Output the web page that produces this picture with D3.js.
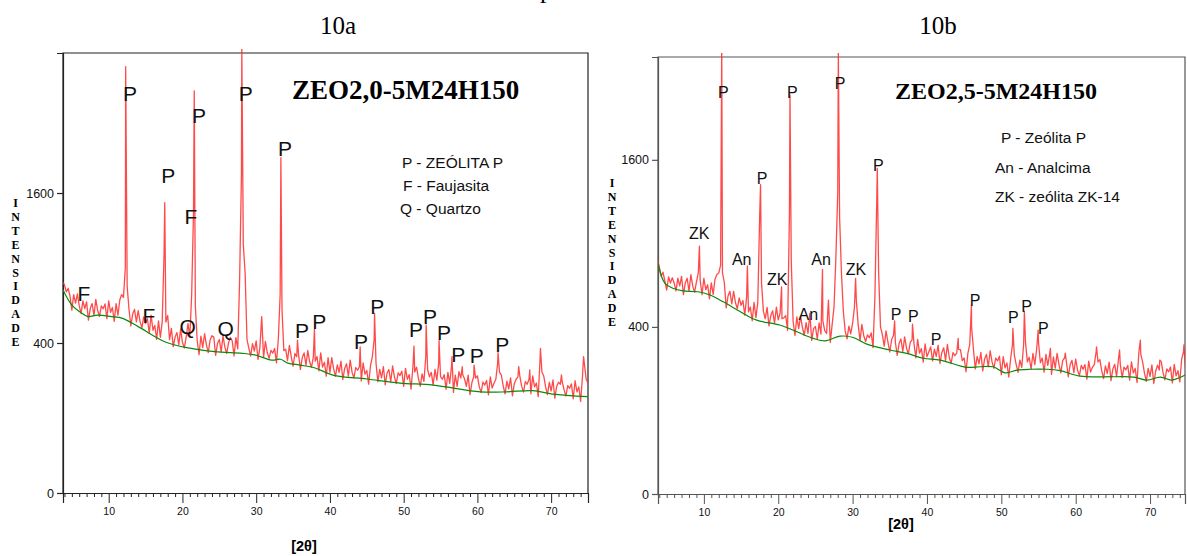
<!DOCTYPE html>
<html>
<head>
<meta charset="utf-8">
<script src="https://cdn.jsdelivr.net/npm/d3@7"></script>
<style>
  body { margin: 0; background: #fff; }
  svg { display: block; }
</style>
</head>
<body>
<svg id="chart" width="1187" height="556"></svg>
<script>
// ---- data --------------------------------------------------------------
// Scans are sampled every 0.25° 2θ starting at 3.75°; sharp reflections are
// listed separately as [2θ, intensity] and merged into the trace.
const SCAN_START = 3.75;
const SCAN_STEP = 0.25;

const scanA = [
  790,
  770, 720, 745, 690,   595, 700, 641, 705,   624, 572, 656, 604,   650, 531, 606, 638,   // 4-7°
  560, 667, 592, 554,   623, 604, 636, 541,   656, 580, 612, 524,   638, 562, 662, 700,   // 8-11°
  680, 900, 760, 600,   496, 569, 599, 520,   592, 522, 486, 551,   511, 540, 453, 563,   // 12-15°
  471, 499, 420, 527,   431, 519, 1000, 520,  560, 418, 482, 381,   432, 458, 390, 479,   // 16-19°
  404, 373, 430, 510,   434, 700, 1400, 620,  412, 340, 437, 376,   451, 390, 350, 416,   // 20-23°
  440, 432, 337, 397,   419, 354, 439, 379,   346, 401, 430, 411,   334, 429, 369, 800,   // 24-27°
  1800, 1100, 860, 420, 373, 333, 397, 358,   411, 317, 376, 553,   327, 409, 351, 322,   // 28-31°
  362, 348, 371, 301,   420, 700, 600, 360,   368, 312, 387, 331,   286, 346, 330, 340,   // 32-35°
  272, 326, 349, 290,   361, 306, 280, 329,   309, 331, 265, 349,   282, 304, 243, 326,   // 36-39°
  258, 326, 275, 242,   292, 259, 309, 229,   276, 297, 243, 314,   260, 235, 280, 268,   // 40-43°
  284, 223, 301, 251,   267, 211, 288, 330,   420, 300, 220, 272,   236, 284, 208, 256,   // 44-47°
  271, 220, 287, 240,   213, 257, 245, 264,   202, 276, 230, 249,   192, 280, 260, 282,   // 48-51°
  233, 202, 252, 222,   330, 270, 240, 259,   207, 272, 226, 300,   241, 230, 249, 192,   // 52-55°
  259, 214, 290, 180,   247, 202, 262, 235,   250, 232, 202, 247,   172, 216, 240, 235,   // 56-59°
  244, 201, 179, 219,   207, 225, 171, 240,   196, 214, 230, 300,   260, 247, 204, 175,   // 60-63°
  222, 193, 236, 168,   212, 230, 240, 244,   203, 181, 221, 210,   230, 175, 244, 200,   // 64-67°
  215, 165, 320, 260,   243, 200, 172, 218,   185, 227, 160, 202,   218, 210, 220, 190,   // 68-71°
  167, 205, 195, 212,   158, 224, 182, 200,   149, 240, 300, 230,                         // 72-74°
  215
];
const peaksA = [
  [12.3, 3230], [17.6, 1500], [21.6, 2875], [28.05, 3520], [33.35, 2000],
  [35.6, 416], [37.9, 477], [44.1, 380], [46.05, 574], [51.4, 384],
  [53.05, 502], [54.8, 416], [56.55, 331], [57.95, 284], [59.55, 291],
  [62.8, 350], [65.6, 284], [67.1, 269], [68.55, 372], [71.4, 248], [74.4, 331]
];
const backgroundA = [
  [3.8, 733], [5.0, 628], [6.2, 580], [7.2, 553], [8.5, 563], [10.4, 553], [11.8, 544],
  [14.0, 492], [17.6, 407], [20.8, 374], [24.4, 355], [28.1, 347], [29.8, 339],
  [32.1, 314], [33.3, 318], [34.3, 300], [35.9, 291], [38.0, 278], [40.4, 247],
  [45.0, 231], [49.5, 215], [54.0, 207], [60.4, 182], [64.0, 182], [67.5, 186],
  [70.2, 174], [75.0, 165]
];
const phaseLabelsA = [
  ["F", 6.65, 711], ["P", 12.89, 2840], ["P", 18.08, 1798], ["P", 22.24, 2540],
  ["F", 21.16, 1357], ["P", 28.58, 2840], ["P", 33.91, 2116], ["F", 15.46, 563],
  ["Q", 20.71, 492], ["Q", 25.86, 484], ["P", 36.21, 472], ["P", 38.56, 526],
  ["P", 44.21, 407], ["P", 46.42, 617], ["P", 51.67, 476], ["P", 53.57, 553],
  ["P", 55.47, 457], ["P", 57.41, 343], ["P", 59.9, 334], ["P", 63.37, 395]
];

const scanB = [
  790,
  740, 680, 705, 650,   595, 676, 637, 670,   638, 591, 668, 621,   679, 569, 638, 667,   // 4-7°
  590, 689, 619, 584,   644, 700, 656, 569,   667, 598, 627, 546,   639, 571, 662, 690,   // 8-11°
  700, 750, 700, 640,   496, 562, 589, 518,   588, 524, 492, 551,   510, 536, 458, 557,   // 12-15°
  475, 501, 430, 526,   446, 526, 1100, 640,  479, 440, 499, 405,   456, 481, 417, 500,   // 16-19°
  434, 470, 440, 444,   456, 384, 1100, 780,  425, 360, 449, 392,   453, 398, 361, 421,   // 20-23°
  370, 467, 338, 392,   402, 344, 420, 366,   430, 382, 369, 538,   329, 412, 500, 800,   // 24-27°
  1300, 1100, 700, 480, 381, 345, 404, 368,   418, 500, 540, 410,   337, 412, 359, 333,   // 28-31°
  363, 350, 372, 307,   560, 1237, 700, 400,  364, 313, 381, 330,   289, 342, 360, 330,   // 32-35°
  275, 324, 344, 291,   354, 305, 281, 330,   340, 326, 266, 342,   284, 303, 249, 323,   // 36-39°
  270, 290, 310, 254,   301, 271, 317, 244,   287, 306, 256, 321,   267, 244, 286, 274,   // 40-43°
  284, 300, 299, 255,   265, 214, 283, 320,   400, 300, 224, 271,   243, 287, 217, 261,   // 44-47°
  279, 232, 294, 250,   226, 265, 254, 272,   204, 270, 228, 246,   196, 262, 320, 276,   // 48-51°
  240, 212, 257, 230,   320, 330, 250, 268,   223, 283, 240, 300,   330, 247, 265, 213,   // 52-55°
  279, 237, 280, 205,   269, 227, 283, 241,   210, 255, 265, 250,   197, 239, 256, 211,   // 56-59°
  261, 220, 200, 237,   223, 240, 189, 253,   213, 230, 240, 290,   250, 259, 218, 191,   // 60-63°
  235, 208, 249, 184,   224, 241, 197, 260,   240, 194, 231, 221,   237, 186, 250, 210,   // 64-67°
  226, 178, 290, 280,   250, 209, 182, 226,   198, 239, 175, 215,   238, 220, 252, 211,   // 68-71°
  187, 224, 214, 231,   177, 241, 200, 218,   180, 260, 290, 232,                         // 72-74°
  220
];
const peaksB = [
  [9.4, 880], [12.4, 2900], [15.85, 744], [17.62, 1372], [20.45, 615],
  [21.58, 2278], [25.95, 722], [28.08, 2800], [30.4, 666], [33.32, 1518],
  [35.65, 429], [38.05, 413], [44.2, 347], [45.98, 511], [51.55, 393],
  [53.1, 479], [54.95, 385], [56.6, 304], [58.6, 284], [62.8, 310],
  [65.9, 297], [68.7, 339], [71.3, 257], [74.55, 318]
];
const backgroundB = [
  [3.83, 761], [4.77, 635], [5.9, 605], [7.2, 591], [9.25, 586], [10.8, 567],
  [12.6, 529], [14.9, 476], [17.1, 433], [20.2, 409], [22.5, 377], [24.7, 347],
  [26.3, 336], [28.3, 357], [30.1, 351], [31.9, 322], [35.0, 297], [37.3, 283],
  [39.5, 264], [41.8, 257], [45.3, 230], [47.1, 232], [48.9, 232], [50.5, 210],
  [52.1, 220], [53.9, 223], [56.1, 223], [57.9, 218], [60.6, 199], [65.1, 197],
  [67.8, 196], [69.6, 186], [71.4, 196], [72.9, 186], [74.9, 205]
];
const phaseLabelsB = [
  ["ZK", 9.38, 974], ["P", 12.61, 2318], ["An", 15.09, 789], ["P", 17.82, 1428],
  ["ZK", 19.87, 660], ["P", 21.89, 2318], ["An", 24.04, 464], ["An", 25.75, 789],
  ["P", 28.31, 2416], ["ZK", 30.46, 723], ["P", 33.46, 1551], ["P", 35.84, 463],
  ["P", 38.16, 454], ["P", 41.22, 343], ["P", 46.46, 539], ["P", 51.61, 447],
  ["P", 53.41, 506], ["P", 55.65, 393]
];

const yTickValues = [0, 400, 1600];
const xTickValues = [10, 20, 30, 40, 50, 60, 70];
const xMinorTickValues = d3.range(4, 76).filter(v => v % 10 !== 0);

const panelTitles = ["10a", "10b"];
const sampleNames = ["ZEO2,0-5M24H150", "ZEO2,5-5M24H150"];
const legendA = ["P - ZEÓLITA P", "F - Faujasita", "Q - Quartzo"];
const legendB = ["P - Zeólita P", "An - Analcima", "ZK - zeólita ZK-14"];
const yTitle = "INTENSIDADE";
const xTitle = "[2θ]";

// ---- drawing -----------------------------------------------------------
const SANS = "'Liberation Sans', Arial, sans-serif";
const SERIF = "'Liberation Serif', 'Times New Roman', serif";
const svg = d3.select("#chart");

// tail of the caption line running above the figure
svg.append("text")
  .attr("x", 540).attr("y", -2)
  .attr("font-family", SERIF).attr("font-size", 26)
  .text("p");

function traceOf(scan, peaks) {
  const pts = scan.map((v, i) => [SCAN_START + i * SCAN_STEP, v]);
  return pts.concat(peaks).sort((a, b) => a[0] - b[0]);
}

function drawPanel(p) {
  const g = svg.append("g");
  const x = d3.scaleLinear().domain(p.xDomain).range([p.left, p.right]);
  const y = d3.scaleSqrt().domain([0, p.yMax]).range([p.bottom, p.top]);

  const clipId = "clip-" + p.id;
  svg.append("clipPath").attr("id", clipId)
    .append("rect")
    .attr("x", p.left).attr("y", p.top - 4)
    .attr("width", p.right - p.left).attr("height", p.bottom - p.top + 4);

  // frame
  g.append("path")
    .attr("d", `M${p.left},${p.bottom}V${p.top}H${p.right}V${p.bottom}`)
    .attr("fill", "none").attr("stroke", p.frameColor).attr("stroke-width", 1.2);

  // y axis
  const yAxis = g.append("g")
    .attr("transform", `translate(${p.left},0)`)
    .call(d3.axisLeft(y).tickValues(yTickValues).tickSize(6).tickPadding(3).tickFormat(d3.format("d")));
  yAxis.select(".domain").attr("stroke", p.frameColor).attr("stroke-width", 1.2);
  yAxis.selectAll(".tick line").attr("stroke", p.frameColor).attr("stroke-width", 1.2);
  yAxis.selectAll("text").attr("font-family", SANS).attr("font-size", 12.5).attr("fill", "#111");

  // x axis: major and minor ticks
  const xAxis = g.append("g")
    .attr("transform", `translate(0,${p.bottom})`)
    .call(d3.axisBottom(x).tickValues(xTickValues).tickSizeOuter(0).tickSize(10).tickPadding(5));
  xAxis.select(".domain").attr("stroke", p.frameColor).attr("stroke-width", 1.2);
  xAxis.selectAll(".tick line").attr("stroke", p.frameColor).attr("stroke-width", 1);
  xAxis.selectAll("text").attr("font-family", SANS).attr("font-size", 10.5).attr("fill", "#111");
  const xMinor = g.append("g")
    .attr("transform", `translate(0,${p.bottom})`)
    .call(d3.axisBottom(x).tickValues(xMinorTickValues).tickSizeOuter(0).tickSize(4).tickFormat(""));
  xMinor.select(".domain").remove();
  xMinor.selectAll(".tick line").attr("stroke", p.frameColor).attr("stroke-width", 1);

  // measured pattern and fitted background
  const plot = g.append("g").attr("clip-path", `url(#${clipId})`);
  plot.append("path")
    .datum(traceOf(p.scan, p.peaks))
    .attr("d", d3.line().x(d => x(d[0])).y(d => y(d[1])))
    .attr("fill", "none").attr("stroke", "#ff2a2a").attr("stroke-opacity", 0.85)
    .attr("stroke-width", 1.3).attr("stroke-linejoin", "round");
  plot.append("path")
    .datum(p.background)
    .attr("d", d3.line().x(d => x(d[0])).y(d => y(d[1])).curve(d3.curveCatmullRom))
    .attr("fill", "none").attr("stroke", "#0a8a0a").attr("stroke-width", 1.2);

  // phase labels over the reflections
  g.append("g").selectAll("text")
    .data(p.labels).join("text")
    .attr("x", d => x(d[1]))
    .attr("y", d => y(d[2]) + p.labelSize * 0.36)
    .attr("text-anchor", "middle")
    .attr("font-family", SANS).attr("font-size", p.labelSize).attr("fill", "#111")
    .text(d => d[0]);

  // vertical axis title, one letter per line
  g.append("g").selectAll("text")
    .data(yTitle.split("")).join("text")
    .attr("x", p.yTitleX).attr("y", (d, i) => p.yTitleTop + i * 13.9 + 4)
    .attr("text-anchor", "middle")
    .attr("font-family", SERIF).attr("font-weight", "bold").attr("font-size", 12)
    .text(d => d);

  // horizontal axis title
  g.append("text")
    .attr("x", p.xTitleX).attr("y", p.xTitleY)
    .attr("text-anchor", "middle")
    .attr("font-family", SANS).attr("font-weight", "bold").attr("font-size", 14.5)
    .text(xTitle);

  // panel heading and sample name
  g.append("text")
    .attr("x", p.headX).attr("y", 34)
    .attr("text-anchor", "middle")
    .attr("font-family", SERIF).attr("font-size", 25)
    .text(p.head);
  g.append("text")
    .attr("x", p.nameX).attr("y", p.nameY)
    .attr("font-family", SERIF).attr("font-weight", "bold").attr("font-size", p.nameSize)
    .text(p.name);

  // legend
  g.append("g").selectAll("text")
    .data(p.legend).join("text")
    .attr("x", (d, i) => p.legendX[i]).attr("y", (d, i) => p.legendY[i])
    .attr("font-family", SANS).attr("font-size", 15.5).attr("fill", "#111")
    .text(d => d);
}

drawPanel({
  id: "a", left: 63, right: 588, top: 53, bottom: 493,
  xDomain: [3.8, 75], yMax: 3442, frameColor: "#222",
  scan: scanA, peaks: peaksA, background: backgroundA, labels: phaseLabelsA,
  labelSize: 21, yTitleX: 15.5, yTitleTop: 203, xTitleX: 304, xTitleY: 551,
  head: panelTitles[0], headX: 338, name: sampleNames[0], nameX: 292, nameY: 99, nameSize: 27,
  legend: legendA, legendX: [402, 403, 400], legendY: [168, 191, 214]
});
drawPanel({
  id: "b", left: 658, right: 1185, top: 57, bottom: 494,
  xDomain: [3.83, 74.7], yMax: 2736, frameColor: "#555",
  scan: scanB, peaks: peaksB, background: backgroundB, labels: phaseLabelsB,
  labelSize: 16, yTitleX: 612, yTitleTop: 183, xTitleX: 901, xTitleY: 529,
  head: panelTitles[1], headX: 938, name: sampleNames[1], nameX: 895, nameY: 99, nameSize: 24,
  legend: legendB, legendX: [1001, 995, 995], legendY: [143, 173, 202]
});
</script>
</body>
</html>
